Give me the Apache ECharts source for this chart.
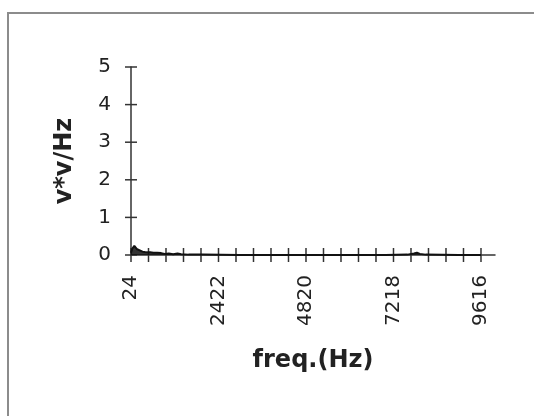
<!DOCTYPE html>
<html>
<head>
<meta charset="utf-8">
<script src="https://cdn.jsdelivr.net/npm/echarts@6/dist/echarts.min.js"></script>
<style>
  html, body { margin: 0; padding: 0; background: #ffffff; overflow: hidden; }
  #wrap { position: relative; width: 534px; height: 416px; overflow: hidden; }
  #chart { width: 534px; height: 416px; }
  #frame {
    position: absolute; left: 7px; top: 12px; width: 560px; height: 440px;
    border-top: 2px solid #8c8c8c; border-left: 2px solid #8c8c8c;
    border-right: none; border-bottom: none;
    pointer-events: none;
  }
</style>
</head>
<body>
<div id="wrap">
  <div id="chart"></div>
  <div id="frame"></div>
</div>
<script>
// Power spectrum: frequency (Hz) against v*v/Hz
const freqHz = [24, 60, 90, 115, 135, 155, 180, 210, 250, 290, 340, 400, 470, 550, 640, 740, 850, 950, 1060, 1180, 1300, 1400, 1600, 2000, 3000, 4000, 5000, 6000, 7000, 7600, 7780, 7860, 7940, 8100, 9000, 9616];
const power  = [0.06, 0.17, 0.20, 0.24, 0.28, 0.19, 0.16, 0.18, 0.13, 0.11, 0.09, 0.08, 0.07, 0.07, 0.06, 0.06, 0.05, 0.03, 0.04, 0.02, 0.04, 0.02, 0.01, 0.01, 0.0, 0.0, 0.0, 0.0, 0.0, 0.01, 0.04, 0.06, 0.03, 0.01, 0.0, 0.0];

// Tick marks every 479.6 Hz, labelled every fifth
const xTicks = [];
for (let i = 0; i <= 20; i++) xTicks.push(24 + i * 479.6);
const xLabels = [24, 2422, 4820, 7218, 9616];
const yTicks = [0, 1, 2, 3, 4, 5];

const xMin = 24, xMax = 10000;
const yMin = 0, yMax = 5;

const tickFont = { fontFamily: 'DejaVu Sans', fontSize: 20, color: '#222' };
const nameFont = { fontFamily: 'DejaVu Sans', fontSize: 24, fontWeight: 'bold', color: '#222' };
const axisColor = '#333';

// Tick marks that cross the axis line, placed through the axis scales
function crossTick(half, horizontal) {
  return function (params, api) {
    const p = api.coord([api.value(0), api.value(1)]);
    const shape = horizontal
      ? { x1: p[0] - half, y1: p[1], x2: p[0] + half, y2: p[1] }
      : { x1: p[0], y1: p[1] - half, x2: p[0], y2: p[1] + half };
    return { type: 'line', shape: shape, style: { stroke: axisColor, lineWidth: 1.5 } };
  };
}

const chart = echarts.init(document.getElementById('chart'), null, { renderer: 'canvas' });

chart.setOption({
  backgroundColor: '#ffffff',
  animation: false,
  grid: { left: 131, top: 67, right: 39, bottom: 161, outerBoundsMode: 'none' },
  xAxis: {
    type: 'value', min: xMin, max: xMax,
    name: 'freq.(Hz)', nameLocation: 'middle', nameGap: 94, nameTextStyle: nameFont,
    axisLine: { show: true, onZero: false, lineStyle: { color: axisColor, width: 1.5 } },
    axisTick: { show: false },
    axisLabel: { rotate: 90, margin: 20, customValues: xLabels, formatter: v => String(Math.round(v)), ...tickFont },
    splitLine: { show: false }
  },
  yAxis: {
    type: 'value', min: yMin, max: yMax,
    name: 'v*v/Hz', nameLocation: 'middle', nameGap: 54, nameRotate: 90, nameTextStyle: nameFont,
    axisLine: { show: true, onZero: false, lineStyle: { color: axisColor, width: 1.5 } },
    axisTick: { show: false },
    axisLabel: { margin: 20, customValues: yTicks, ...tickFont },
    splitLine: { show: false }
  },
  series: [{
    type: 'line',
    data: freqHz.map((f, i) => [f, power[i]]),
    showSymbol: false,
    lineStyle: { color: '#111', width: 2 },
    areaStyle: { color: '#111', opacity: 0.85 },
    z: 3
  }, {
    type: 'custom', silent: true, clip: false,
    data: xTicks.map(v => [v, yMin]),
    renderItem: crossTick(7, false),
    z: 2
  }, {
    type: 'custom', silent: true, clip: false,
    data: yTicks.map(v => [xMin, v]),
    renderItem: crossTick(6, true),
    z: 2
  }]
});
</script>
</body>
</html>
